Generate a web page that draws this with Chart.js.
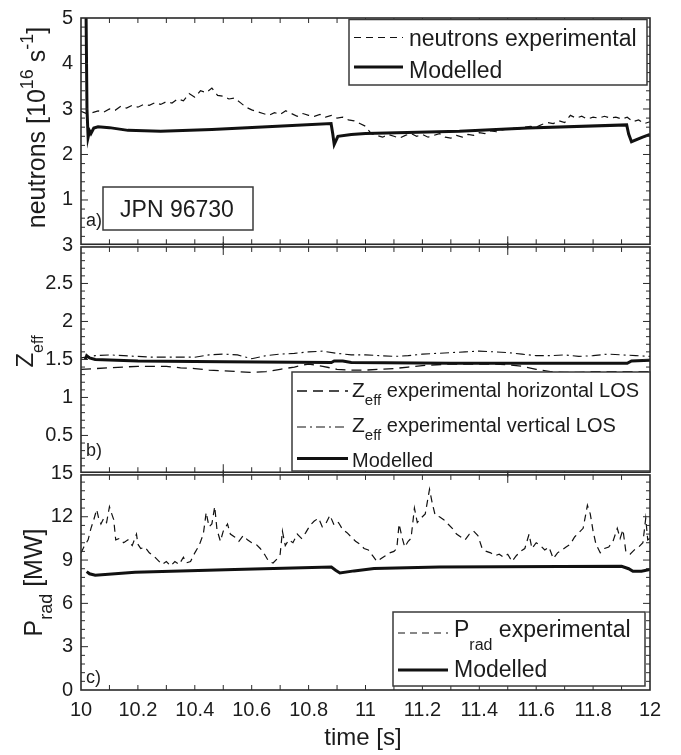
<!DOCTYPE html>
<html><head><meta charset="utf-8">
<script src="https://cdn.jsdelivr.net/npm/chart.js@4"></script>
<style>html,body{margin:0;padding:0;background:#fff}canvas{display:block}</style>
</head><body>
<canvas id="c" width="681" height="755"></canvas>
<script>
// ---------------- data ----------------
const xTicks = [10, 10.2, 10.4, 10.6, 10.8, 11, 11.2, 11.4, 11.6, 11.8, 12];
const neuTicks = [0, 1, 2, 3, 4, 5];
const zeffTicks = [0, 0.5, 1, 1.5, 2, 2.5, 3];
const pradTicks = [0, 3, 6, 9, 12, 15];

const tNeuExp = [10.00,10.02,10.04,10.06,10.08,10.10,10.12,10.14,10.16,10.18,10.20,10.22,10.24,10.26,10.28,10.30,10.32,10.34,10.36,10.38,10.40,10.42,10.44,10.46,10.48,10.50,10.52,10.54,10.56,10.58,10.60,10.62,10.64,10.66,10.68,10.70,10.72,10.74,10.76,10.78,10.80,10.82,10.84,10.86,10.88,10.90,10.92,10.94,10.96,10.98,11.00,11.02,11.04,11.06,11.08,11.10,11.12,11.14,11.16,11.18,11.20,11.22,11.24,11.26,11.28,11.30,11.32,11.34,11.36,11.38,11.40,11.42,11.44,11.46,11.48,11.50,11.52,11.54,11.56,11.58,11.60,11.62,11.64,11.66,11.68,11.70,11.72,11.74,11.76,11.78,11.80,11.82,11.84,11.86,11.88,11.90,11.92,11.94,11.96,11.98,12.00];
const neuExp = [2.95,2.90,2.92,2.96,2.93,3.00,2.97,3.06,3.02,3.08,3.04,3.10,3.08,3.14,3.10,3.16,3.13,3.22,3.18,3.34,3.26,3.40,3.36,3.46,3.30,3.28,3.22,3.24,3.14,3.04,2.98,2.94,2.90,2.86,2.92,2.88,2.96,2.90,2.84,2.90,2.86,2.84,2.88,2.82,2.86,2.80,2.82,2.76,2.74,2.68,2.62,2.46,2.42,2.38,2.44,2.40,2.36,2.42,2.46,2.40,2.44,2.38,2.42,2.46,2.38,2.36,2.42,2.38,2.44,2.42,2.48,2.46,2.52,2.50,2.54,2.56,2.58,2.56,2.60,2.62,2.60,2.66,2.70,2.68,2.74,2.70,2.86,2.80,2.84,2.78,2.82,2.80,2.84,2.80,2.82,2.78,2.82,2.72,2.76,2.68,2.72];

const tNeuMod = [10.017,10.021,10.025,10.030,10.035,10.045,10.060,10.100,10.165,10.280,10.460,10.690,10.879,10.885,10.890,10.903,10.950,11.000,11.330,11.570,11.918,11.925,11.935,11.974,12.000];
const neuMod = [5.6,3.0,2.38,2.52,2.46,2.58,2.61,2.59,2.53,2.51,2.55,2.62,2.68,2.45,2.22,2.40,2.44,2.46,2.51,2.58,2.65,2.45,2.28,2.38,2.44];

const tZeff = [10.00,10.05,10.10,10.15,10.20,10.25,10.30,10.35,10.40,10.45,10.50,10.55,10.60,10.65,10.70,10.75,10.80,10.85,10.90,10.95,11.00,11.05,11.10,11.15,11.20,11.25,11.30,11.35,11.40,11.45,11.50,11.55,11.60,11.65,11.70,11.75,11.80,11.85,11.90,11.95,12.00];
const zeffHor = [1.37,1.38,1.39,1.40,1.41,1.41,1.41,1.39,1.38,1.36,1.35,1.34,1.33,1.34,1.37,1.40,1.44,1.41,1.37,1.36,1.36,1.37,1.38,1.40,1.42,1.43,1.44,1.44,1.44,1.44,1.43,1.41,1.37,1.34,1.33,1.33,1.34,1.34,1.34,1.34,1.34];
const zeffVer = [1.52,1.55,1.56,1.55,1.54,1.53,1.53,1.53,1.53,1.56,1.57,1.56,1.51,1.55,1.57,1.58,1.60,1.61,1.58,1.56,1.56,1.55,1.54,1.55,1.57,1.58,1.59,1.60,1.61,1.60,1.59,1.57,1.55,1.55,1.56,1.54,1.55,1.57,1.56,1.55,1.54];

const tZeffMod = [10.015,10.020,10.030,10.050,10.200,10.500,10.880,10.890,10.920,10.950,11.300,11.920,11.935,12.000];
const zeffMod = [1.50,1.55,1.52,1.50,1.48,1.47,1.46,1.48,1.48,1.46,1.45,1.45,1.48,1.49];

const tPradExp = [10.000,10.010,10.025,10.035,10.045,10.055,10.062,10.070,10.080,10.090,10.100,10.108,10.115,10.122,10.135,10.150,10.165,10.180,10.195,10.200,10.210,10.225,10.240,10.255,10.270,10.285,10.300,10.315,10.330,10.345,10.360,10.370,10.385,10.400,10.415,10.430,10.440,10.450,10.460,10.470,10.478,10.490,10.500,10.515,10.525,10.540,10.555,10.570,10.585,10.600,10.615,10.630,10.645,10.660,10.675,10.690,10.700,10.708,10.718,10.730,10.745,10.760,10.775,10.790,10.805,10.820,10.835,10.848,10.860,10.875,10.890,10.905,10.920,10.935,10.950,10.965,10.980,10.995,11.010,11.025,11.040,11.055,11.070,11.085,11.100,11.110,11.118,11.128,11.138,11.150,11.160,11.172,11.182,11.195,11.210,11.225,11.235,11.245,11.260,11.275,11.290,11.305,11.320,11.335,11.350,11.365,11.380,11.395,11.410,11.425,11.440,11.455,11.470,11.485,11.500,11.515,11.530,11.545,11.560,11.575,11.585,11.600,11.615,11.630,11.645,11.660,11.675,11.690,11.705,11.720,11.735,11.750,11.765,11.780,11.790,11.800,11.810,11.825,11.840,11.855,11.870,11.885,11.895,11.905,11.915,11.930,11.945,11.960,11.975,11.985,11.992,12.000];
const pradExp = [9.5,9.9,10.4,11.2,11.8,12.5,11.9,11.5,11.9,11.6,12.7,12.2,11.8,10.4,10.5,10.2,10.4,10.0,10.8,10.1,9.8,9.9,9.5,9.3,9.0,8.7,8.9,8.6,8.9,8.7,9.2,8.8,8.9,9.5,10.0,10.8,12.3,11.3,11.5,12.7,11.1,10.3,11.0,11.5,10.8,10.6,10.3,10.7,10.4,10.2,10.1,9.8,9.4,8.9,8.8,9.1,9.4,11.0,10.0,10.4,10.2,10.8,10.5,10.9,11.4,11.7,11.9,11.3,11.5,12.1,11.4,11.6,11.1,10.9,10.6,10.3,10.1,9.8,9.7,9.3,8.9,9.1,9.3,9.5,9.6,9.8,11.5,10.6,9.9,10.3,10.5,12.6,11.6,11.9,12.2,13.9,12.9,12.1,12.0,11.8,11.5,11.2,10.8,10.6,10.4,10.8,11.0,10.7,9.8,9.6,9.5,9.3,9.4,9.2,9.4,8.9,9.3,9.6,9.8,10.8,9.8,10.2,10.0,9.7,9.9,9.1,9.5,9.7,9.9,10.1,10.6,10.9,11.2,12.8,12.2,11.0,10.1,9.5,9.8,9.9,10.3,11.2,10.5,11.1,9.6,9.4,9.7,9.9,10.2,11.9,10.4,10.5];

const tPradMod = [10.020,10.030,10.050,10.190,10.540,10.880,10.895,10.910,10.960,11.030,11.260,11.900,11.925,11.940,11.970,12.000];
const pradMod = [8.2,8.05,7.95,8.15,8.34,8.52,8.3,8.11,8.25,8.41,8.52,8.57,8.4,8.22,8.22,8.34];

// ---------------- helpers ----------------
const FONT = '"Liberation Sans", Arial, Helvetica, sans-serif';
const INK = '#1c1c1c';
const pts = (t, v) => t.map((x, i) => ({x: x, y: v[i]}));

function richWidth(ctx, parts) {
  let w = 0;
  for (const p of parts) { ctx.font = p.size + 'px ' + FONT; w += ctx.measureText(p.t).width; }
  return w;
}
function drawRich(ctx, parts, x, y, rotate, align) {
  ctx.save();
  ctx.translate(x, y);
  if (rotate) ctx.rotate(-Math.PI / 2);
  let cx = align === 'center' ? -richWidth(ctx, parts) / 2 : 0;
  ctx.textBaseline = 'alphabetic';
  ctx.textAlign = 'left';
  ctx.fillStyle = INK;
  for (const p of parts) {
    ctx.font = p.size + 'px ' + FONT;
    ctx.fillText(p.t, cx, p.dy || 0);
    cx += ctx.measureText(p.t).width;
  }
  ctx.restore();
}
function legendLine(ctx, ds, x1, x2, y) {
  ctx.save();
  ctx.strokeStyle = ds.borderColor;
  ctx.lineWidth = ds.borderWidth;
  ctx.setLineDash(ds.borderDash || []);
  ctx.beginPath(); ctx.moveTo(x1, y); ctx.lineTo(x2, y); ctx.stroke();
  ctx.restore();
}
function box(ctx, x1, y1, x2, y2) {
  ctx.save();
  ctx.fillStyle = '#fff';
  ctx.fillRect(x1, y1, x2 - x1, y2 - y1);
  ctx.strokeStyle = '#3a3a3a';
  ctx.lineWidth = 1.5;
  ctx.strokeRect(x1, y1, x2 - x1, y2 - y1);
  ctx.restore();
}

const decor = {
  id: 'decor',
  afterDraw(chart) {
    const ctx = chart.ctx;
    const xs = chart.scales.x;
    const L = chart.chartArea.left, R = chart.chartArea.right;
    const panels = [
      {s: chart.scales.yA, minor: 0.2, major: 1, tag: 'a)', tagY: 226, topIn: 0, botIn: 1.2},
      {s: chart.scales.yB, minor: 0.1, major: 0.5, tag: 'b)', tagY: 456, topIn: 1.5, botIn: 1.2},
      {s: chart.scales.yC, minor: 0.6, major: 3, tag: 'c)', tagY: 683, topIn: 1.5, botIn: 0}
    ];
    ctx.save();
    ctx.strokeStyle = '#2a2a2a';
    for (const p of panels) {
      const s = p.s;
      const top = s.top + p.topIn, bot = s.bottom - p.botIn;
      // y ticks (left and right, inward)
      ctx.lineWidth = 1;
      const n = Math.round((s.max - s.min) / p.minor);
      for (let i = 1; i < n; i++) {
        const v = s.min + i * p.minor;
        const py = s.getPixelForValue(v);
        const isMaj = Math.abs(v / p.major - Math.round(v / p.major)) < 1e-6;
        const len = isMaj ? 7 : 4;
        ctx.beginPath();
        ctx.moveTo(L, py); ctx.lineTo(L + len, py);
        ctx.moveTo(R, py); ctx.lineTo(R - len, py);
        ctx.stroke();
      }
      // x ticks (top and bottom, inward)
      for (let i = 1; i < 20; i++) {
        const px = xs.getPixelForValue(10 + i * 0.1);
        const long = (i === 5 || i === 15);
        ctx.beginPath();
        ctx.moveTo(px, top); ctx.lineTo(px, top + (long && p.topIn ? 8 : 5));
        ctx.moveTo(px, bot); ctx.lineTo(px, bot - (long && p.botIn ? 8 : 5));
        if (long && p.topIn) { ctx.moveTo(px, top); ctx.lineTo(px, top - 5); }
        if (long && p.botIn) { ctx.moveTo(px, bot); ctx.lineTo(px, bot + 5); }
        ctx.stroke();
      }
      // frame
      ctx.lineWidth = 1.6;
      ctx.strokeRect(L, top, R - L, bot - top);
      // panel tag
      ctx.fillStyle = INK;
      ctx.font = '18px ' + FONT;
      ctx.textAlign = 'left';
      ctx.textBaseline = 'alphabetic';
      ctx.fillText(p.tag, 86, p.tagY);
    }
    ctx.restore();

    const ds = chart.data.datasets;
    // JPN box
    box(ctx, 103, 187, 253, 230);
    drawRich(ctx, [{t: 'JPN 96730', size: 23}], 177, 217, false, 'center');

    // legend a
    box(ctx, 349, 19.5, 647, 85);
    legendLine(ctx, ds[0], 354, 403, 37.5);
    drawRich(ctx, [{t: 'neutrons experimental', size: 23}], 409, 46, false);
    legendLine(ctx, ds[1], 354, 403, 67);
    drawRich(ctx, [{t: 'Modelled', size: 23}], 409, 77.5, false);

    // legend b
    box(ctx, 292, 372, 650, 471);
    legendLine(ctx, ds[2], 297, 348, 391);
    drawRich(ctx, [{t: 'Z', size: 21}, {t: 'eff', size: 15, dy: 8}, {t: ' experimental horizontal LOS', size: 20}], 352, 397, false);
    legendLine(ctx, ds[3], 297, 348, 427);
    drawRich(ctx, [{t: 'Z', size: 21}, {t: 'eff', size: 15, dy: 8}, {t: ' experimental vertical LOS', size: 20}], 352, 432, false);
    legendLine(ctx, ds[4], 297, 348, 458.5);
    drawRich(ctx, [{t: 'Modelled', size: 20}], 352, 467, false);

    // legend c
    box(ctx, 393, 612, 645, 686);
    legendLine(ctx, ds[5], 398, 448, 633);
    drawRich(ctx, [{t: 'P', size: 23}, {t: 'rad', size: 16, dy: 13}, {t: ' experimental', size: 23}], 454, 637, false);
    legendLine(ctx, ds[6], 398, 448, 670);
    drawRich(ctx, [{t: 'Modelled', size: 23}], 454, 677, false);

    // axis titles
    drawRich(ctx, [{t: 'neutrons [10', size: 25}, {t: '16', size: 18, dy: -12}, {t: ' s', size: 25}, {t: '-1', size: 18, dy: -12}, {t: ']', size: 25}], 45, 127.5, true, 'center');
    drawRich(ctx, [{t: 'Z', size: 24}, {t: 'eff', size: 16, dy: 10}], 33, 351.5, true, 'center');
    drawRich(ctx, [{t: 'P', size: 25}, {t: 'rad', size: 18, dy: 10}, {t: ' [MW]', size: 25}], 42, 582.5, true, 'center');
    drawRich(ctx, [{t: 'time [s]', size: 24}], 363, 745, false, 'center');
  }
};

function yAxis(weight, min, max, ticks, hide) {
  return {
    type: 'linear', position: 'left', stack: 'panels', stackWeight: weight,
    min: min, max: max,
    grid: {display: false, drawTicks: false}, border: {display: false},
    afterBuildTicks: s => { s.ticks = ticks.map(v => ({value: v})); },
    afterFit: s => { s.width = 81; },
    ticks: {
      autoSkip: false, padding: 8, color: INK,
      font: {family: FONT, size: 20, lineHeight: 1},
      callback: v => (hide.includes(v) ? '' : String(v))
    }
  };
}

const black = '#111';
new Chart(document.getElementById('c'), {
  type: 'line',
  data: {
    datasets: [
      {label: 'neutrons experimental', yAxisID: 'yA', data: pts(tNeuExp, neuExp), borderColor: black, borderWidth: 1.2, borderDash: [7, 5]},
      {label: 'Modelled', yAxisID: 'yA', data: pts(tNeuMod, neuMod), borderColor: black, borderWidth: 3},
      {label: 'Zeff experimental horizontal LOS', yAxisID: 'yB', data: pts(tZeff, zeffHor), borderColor: black, borderWidth: 1.3, borderDash: [10, 6]},
      {label: 'Zeff experimental vertical LOS', yAxisID: 'yB', data: pts(tZeff, zeffVer), borderColor: black, borderWidth: 1.1, borderDash: [9, 4, 2, 4]},
      {label: 'Modelled', yAxisID: 'yB', data: pts(tZeffMod, zeffMod), borderColor: black, borderWidth: 3},
      {label: 'Prad experimental', yAxisID: 'yC', data: pts(tPradExp, pradExp), borderColor: black, borderWidth: 1.2, borderDash: [7, 5]},
      {label: 'Modelled', yAxisID: 'yC', data: pts(tPradMod, pradMod), borderColor: black, borderWidth: 3}
    ]
  },
  options: {
    responsive: false, animation: false, devicePixelRatio: 1,
    parsing: true,
    elements: {point: {radius: 0}, line: {tension: 0, fill: false}},
    layout: {padding: {left: 0, right: 31, top: 12, bottom: 0}},
    plugins: {legend: {display: false}, tooltip: {enabled: false}},
    scales: {
      x: {
        type: 'linear', min: 10, max: 12,
        grid: {display: false, drawTicks: false}, border: {display: false},
        afterBuildTicks: s => { s.ticks = xTicks.map(v => ({value: v})); },
        afterFit: s => { s.height = 65; },
        ticks: {autoSkip: false, maxRotation: 0, padding: 10, color: INK,
          font: {family: FONT, size: 20, lineHeight: 1},
          callback: v => String(+Number(v).toFixed(1))}
      },
      yC: yAxis(218.5, 0, 15, pradTicks, []),
      yB: yAxis(230, 0, 3, zeffTicks, [0]),
      yA: yAxis(229.5, 0, 5, neuTicks, [0])
    }
  },
  plugins: [decor]
});
</script>
</body></html>
